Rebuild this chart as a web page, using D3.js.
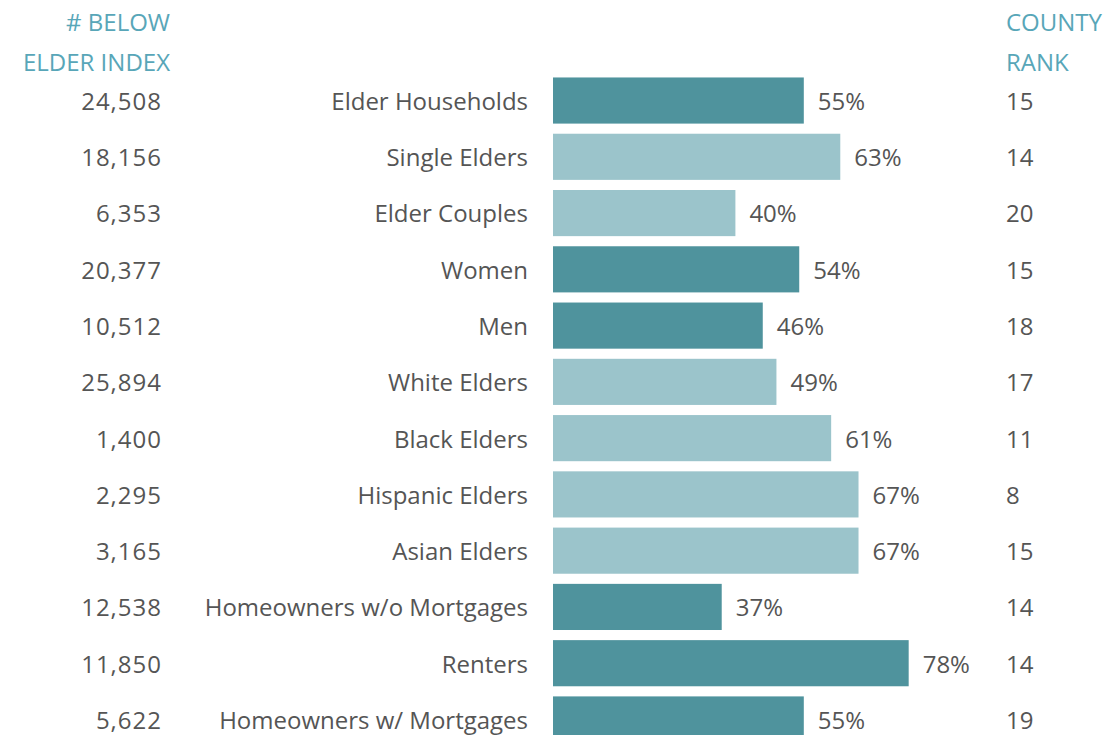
<!DOCTYPE html>
<html>
<head>
<meta charset="utf-8">
<script src="https://cdn.jsdelivr.net/npm/d3@7/dist/d3.min.js"></script>
<style>
  html, body { margin: 0; padding: 0; background: #ffffff; }
  svg { display: block; }
  text { font-family: "Open Sans", "Noto Sans", sans-serif; }
</style>
</head>
<body>
<svg id="chart" width="1113" height="735"></svg>
<script>
// Groups of elders, with the share below the Elder Index
const categories = [
  "Elder Households", "Single Elders", "Elder Couples", "Women", "Men",
  "White Elders", "Black Elders", "Hispanic Elders", "Asian Elders",
  "Homeowners w/o Mortgages", "Renters", "Homeowners w/ Mortgages"
];
const belowCounts = [24508, 18156, 6353, 20377, 10512, 25894, 1400, 2295, 3165, 12538, 11850, 5622];
const sharePercent = [55, 63, 40, 54, 46, 49, 61, 67, 67, 37, 78, 55];
const countyRank = [15, 14, 20, 15, 18, 17, 11, 8, 15, 14, 14, 19];
// Summary groups get the darker shade, sub-groups the lighter one
const groupShade = ["dark", "light", "light", "dark", "dark", "light", "light", "light", "light", "dark", "dark", "dark"];

const headerLeft = ["# BELOW", "ELDER INDEX"];
const headerRight = ["COUNTY", "RANK"];

const shadeColor = { dark: "#4f939d", light: "#9bc4cb" };
const textColor = "#555555";
const headerColor = "#58a6b8";
const fontSize = 24;

const svg = d3.select("#chart");

const rows = categories.map((c, i) => ({
  name: c, count: belowCounts[i], pct: sharePercent[i], rank: countyRank[i], shade: groupShade[i]
}));

const y = d3.scaleBand()
  .domain(categories)
  .range([72.4, 747.6])
  .paddingInner(0.18)
  .paddingOuter(0.09);

const x = d3.scaleLinear().domain([0, 100]).range([553, 1009]);

const fmt = d3.format(",");

// Column headers
svg.append("g").selectAll("text")
  .data(headerLeft).join("text")
  .attr("x", 170).attr("y", (d, i) => 23 + i * 40)
  .attr("dy", "0.35em")
  .attr("text-anchor", "end")
  .attr("fill", headerColor)
  .attr("font-size", fontSize)
  .text(d => d);

svg.append("g").selectAll("text")
  .data(headerRight).join("text")
  .attr("x", 1006).attr("y", (d, i) => 23 + i * 40)
  .attr("dy", "0.35em")
  .attr("text-anchor", "start")
  .attr("fill", headerColor)
  .attr("font-size", fontSize)
  .text(d => d);

const row = svg.append("g").selectAll("g")
  .data(rows).join("g")
  .attr("transform", d => `translate(0,${y(d.name)})`);

const mid = y.bandwidth() / 2 + 1;

// Bars
row.append("rect")
  .attr("x", x(0))
  .attr("y", 0)
  .attr("width", d => x(d.pct) - x(0))
  .attr("height", y.bandwidth())
  .attr("fill", d => shadeColor[d.shade]);

// Count below the index
row.append("text")
  .attr("x", 162).attr("y", mid).attr("dy", "0.35em")
  .attr("text-anchor", "end")
  .attr("fill", textColor).attr("font-size", fontSize)
  .attr("letter-spacing", 1)
  .text(d => fmt(d.count));

// Category names
row.append("text")
  .attr("x", 528).attr("y", mid).attr("dy", "0.35em")
  .attr("text-anchor", "end")
  .attr("fill", textColor).attr("font-size", fontSize)
  .text(d => d.name);

// Percentage labels at the bar ends
row.append("text")
  .attr("x", d => x(d.pct) + 14).attr("y", mid).attr("dy", "0.35em")
  .attr("text-anchor", "start")
  .attr("fill", textColor).attr("font-size", fontSize)
  .text(d => d.pct + "%");

// County rank
row.append("text")
  .attr("x", 1006).attr("y", mid).attr("dy", "0.35em")
  .attr("text-anchor", "start")
  .attr("fill", textColor).attr("font-size", fontSize)
  .text(d => d.rank);
</script>
</body>
</html>
